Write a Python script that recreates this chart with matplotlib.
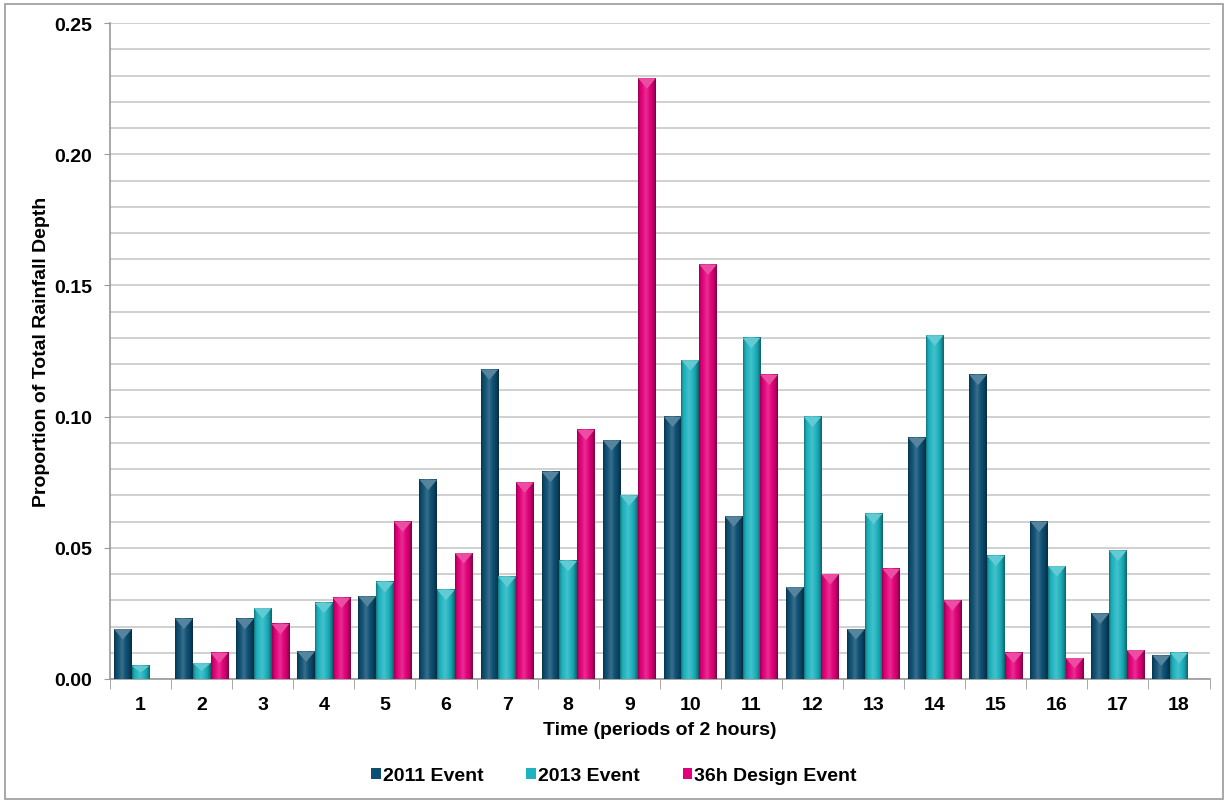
import numpy as np
import matplotlib
matplotlib.use("Agg")
import matplotlib.pyplot as plt
from matplotlib.patches import Rectangle, Polygon
from matplotlib.colors import to_rgb

categories = [str(i) for i in range(1, 19)]
ev2011 = [0.019, 0.023, 0.023, 0.0105, 0.0315, 0.076, 0.118, 0.079, 0.091, 0.100,
          0.062, 0.035, 0.019, 0.092, 0.116, 0.060, 0.025, 0.009]
ev2013 = [0.005, 0.006, 0.027, 0.029, 0.037, 0.034, 0.039, 0.045, 0.070, 0.1215,
          0.130, 0.100, 0.063, 0.131, 0.047, 0.043, 0.049, 0.010]
design = [0.0, 0.010, 0.021, 0.031, 0.060, 0.048, 0.075, 0.095, 0.229, 0.158,
          0.116, 0.040, 0.042, 0.030, 0.010, 0.008, 0.011, 0.0]
series_names = ["2011 Event", "2013 Event", "36h Design Event"]
colors = ["#0d4f72", "#1db3bf", "#e2007a"]

FONT = "Liberation Sans"
FS = 14

fig = plt.figure(figsize=(12.28, 8.03), dpi=100)
ax = fig.add_axes([0.0896, 0.1532, 0.8954, 0.8168])

# figure border
fig.patches.append(Rectangle((0.004, 0.004), 0.992, 0.99, transform=fig.transFigure,
                             fill=False, edgecolor="#9a9a9a", lw=1.2))

x = np.arange(len(categories))
w = 0.29
offsets = [-w, 0, w]
data = [ev2011, ev2013, design]


def shade(c, f):
    r = np.array(to_rgb(c))
    if f >= 0:
        return r + (1 - r) * f
    return r * (1 + f)


for vals, off, col, name in zip(data, offsets, colors, series_names):
    bars = ax.bar(x + off, vals, width=w, color=col, label=name, zorder=3)
    prof = np.linspace(0, 1, 64)
    fac = np.interp(prof, [0, 0.12, 0.45, 0.8, 1.0], [-0.35, -0.05, 0.18, -0.1, -0.45])
    grad = np.array([shade(col, f) for f in fac])[None, :, :]
    for b in bars:
        h = b.get_height()
        if h <= 0:
            continue
        x0 = b.get_x()
        bw = b.get_width()
        ax.imshow(grad, extent=(x0, x0 + bw, 0, h), aspect="auto", zorder=4,
                  interpolation="bilinear")
        th = min(0.004, h * 0.5)
        ax.add_patch(Polygon([(x0, h), (x0 + bw, h), (x0 + bw * 0.5, h - th)],
                             closed=True, facecolor=shade(col, 0.3), edgecolor="none",
                             zorder=5))

ax.set_xlim(-0.5, len(categories) - 0.5)
ax.set_ylim(0, 0.25)
ax.set_xticks(x)
ax.set_xticklabels(categories)
ax.set_xticks(np.arange(-0.5, len(categories), 1), minor=True)
ax.tick_params(axis="x", which="major", length=0, pad=12)
ax.tick_params(axis="x", which="minor", length=7, color="#999999", direction="out")
yt = np.arange(0, 0.2501, 0.05)
ax.set_yticks(yt)
ax.set_yticklabels([f"{v:.2f}" for v in yt])
ax.set_yticks(np.arange(0, 0.2501, 0.01), minor=True)
ax.tick_params(axis="y", which="major", length=4, color="#999999", direction="out", pad=9)
ax.tick_params(axis="y", which="minor", length=0)
for lab in ax.get_xticklabels() + ax.get_yticklabels():
    lab.set_fontweight("bold")
    lab.set_fontsize(FS)
    lab.set_fontfamily(FONT)

ax.grid(True, axis="y", which="both", color="#c8c8c8", lw=1.2, zorder=0)
ax.set_axisbelow(True)
for s in ["top", "right"]:
    ax.spines[s].set_visible(False)
for s in ["left", "bottom"]:
    ax.spines[s].set_color("#999999")
    ax.spines[s].set_linewidth(1.2)

ax.set_ylabel("Proportion of Total Rainfall Depth", fontsize=FS, fontweight="bold",
              fontfamily=FONT, labelpad=3)
ax.set_xlabel("Time (periods of 2 hours)", fontsize=FS, fontweight="bold",
              fontfamily=FONT, labelpad=6)

leg = fig.legend(loc="center", bbox_to_anchor=(0.5, 0.033), ncol=3, frameon=False,
                 prop={"family": FONT, "weight": "bold", "size": FS},
                 handlelength=0.5, handleheight=0.5, handletextpad=0.1, columnspacing=2.2)

fig.savefig("out.png", dpi=100)
